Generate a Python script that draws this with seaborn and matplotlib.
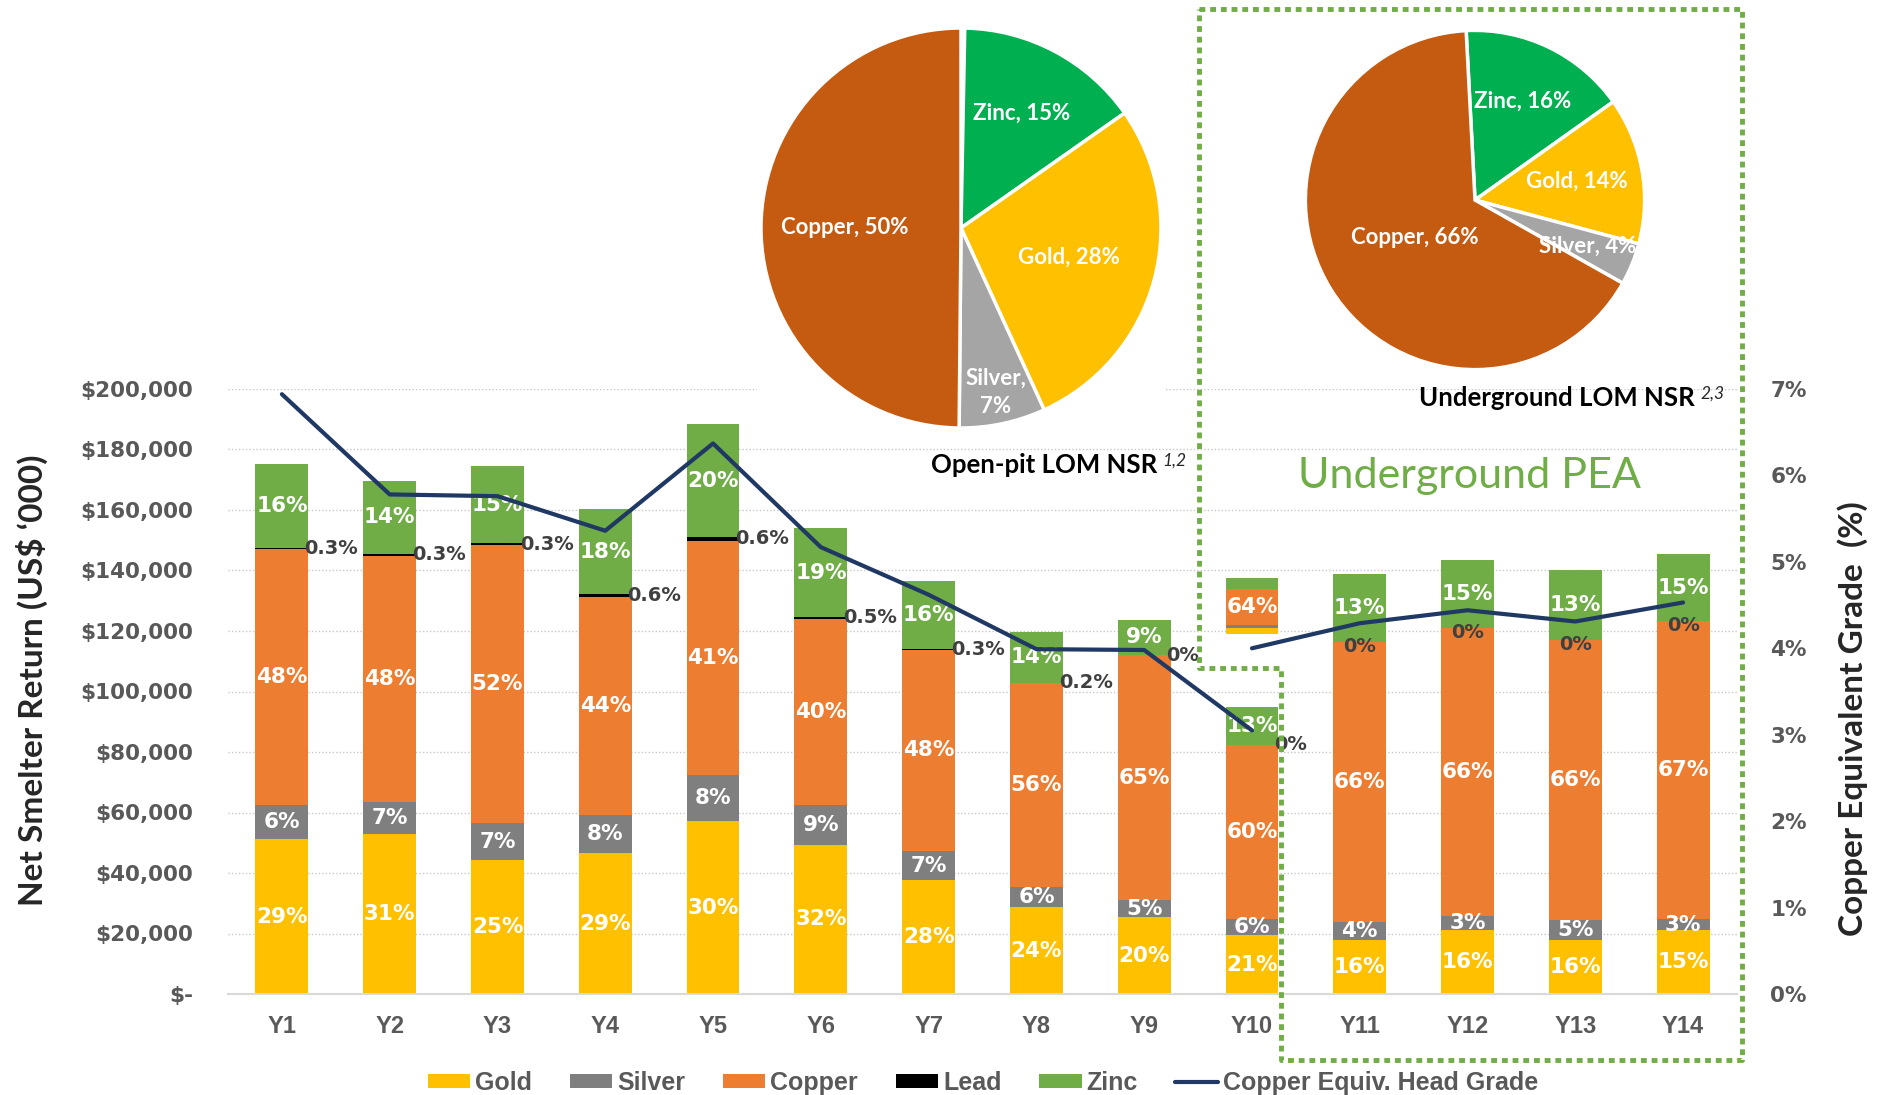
import numpy as np
import pandas as pd
import matplotlib
matplotlib.use("Agg")
import matplotlib.pyplot as plt
import matplotlib.ticker as mticker
from matplotlib.patches import Patch
from matplotlib.lines import Line2D
import seaborn as sns

# ---- data (US$ '000 per metal) ----
years = ["Y1", "Y2", "Y3", "Y4", "Y5", "Y6", "Y7", "Y8", "Y9", "Y10", "Y11", "Y12", "Y13", "Y14"]
metals = ["Gold", "Silver", "Copper", "Lead", "Zinc"]

gold = [51200, 52800, 44200, 46600, 57100, 49300, 37600, 28700, 25300, 19400, 18000, 21300, 18000, 21100]
silver = [11200, 10800, 12200, 12600, 15300, 13200, 9700, 6700, 5700, 5300, 5800, 4500, 6300, 3700]
copper = [84600, 81300, 92100, 72000, 77500, 61400, 66500, 67300, 81000, 57700, 92500, 95200, 92700, 98400]
lead = [500, 500, 500, 1000, 1100, 800, 400, 240, 0, 0, 0, 0, 0, 0]
zinc = [27600, 24300, 25400, 28100, 37400, 29200, 22200, 16700, 11800, 12400, 22600, 22600, 23200, 22200]

gold_lbl = ["29%", "31%", "25%", "29%", "30%", "32%", "28%", "24%", "20%", "21%", "16%", "16%", "16%", "15%"]
silver_lbl = ["6%", "7%", "7%", "8%", "8%", "9%", "7%", "6%", "5%", "6%", "4%", "3%", "5%", "3%"]
copper_lbl = ["48%", "48%", "52%", "44%", "41%", "40%", "48%", "56%", "65%", "60%", "66%", "66%", "66%", "67%"]
lead_lbl = ["0.3%", "0.3%", "0.3%", "0.6%", "0.6%", "0.5%", "0.3%", "0.2%", "0%", "0%", "0%", "0%", "0%", "0%"]
zinc_lbl = ["16%", "14%", "15%", "18%", "20%", "19%", "16%", "14%", "9%", "13%", "13%", "15%", "13%", "15%"]
n_openpit = 10

# underground contribution in Y10, shown as a floating bar
ug_y10_base = 119000
ug_y10 = [2000, 950, 12000, 0, 3600]
ug_y10_lbl = ["", "", "64%", "", ""]

# copper equivalent head grade (%)
grade_openpit = [6.94, 5.78, 5.76, 5.36, 6.37, 5.17, 4.62, 3.99, 3.98, 3.05]
grade_ug_years = ["Y10", "Y11", "Y12", "Y13", "Y14"]
grade_ug = [4.00, 4.29, 4.44, 4.31, 4.53]

# LOM NSR pies
pie_op_names = ["Lead", "Zinc", "Gold", "Silver", "Copper"]
pie_op_vals = [0.3, 15, 28, 7, 50]
pie_op_lbl = ["", "Zinc, 15%", "Gold, 28%", "Silver,\n7%", "Copper, 50%"]
pie_ug_names = ["Zinc", "Gold", "Silver", "Copper"]
pie_ug_vals = [16, 14, 4, 66]
pie_ug_lbl = ["Zinc, 16%", "Gold, 14%", "Silver, 4%", "Copper, 66%"]

# ---- styling ----
bar_colors = {"Gold": "#FFC000", "Silver": "#7F7F7F", "Copper": "#ED7D31", "Lead": "#000000", "Zinc": "#70AD47"}
pie_colors = {"Gold": "#FFC000", "Silver": "#A5A5A5", "Copper": "#C55A11", "Lead": "#D9A400", "Zinc": "#00B050"}
navy = "#1F3864"
tick_grey = "#595959"
green = "#70AD47"

sns.set_style("white")
plt.rcParams["font.family"] = ["DejaVu Sans"]

W, H = 1877, 1095
fig = plt.figure(figsize=(W / 100, H / 100), dpi=100)
ax = fig.add_axes([228 / W, 1 - 994 / H, 1509 / W, 605 / H])

df = pd.DataFrame({"year": years, "Gold": gold, "Silver": silver, "Copper": copper, "Lead": lead, "Zinc": zinc})
labels = {"Gold": gold_lbl, "Silver": silver_lbl, "Copper": copper_lbl, "Zinc": zinc_lbl}

bar_w = 0.49
bottom = np.zeros(len(years))
tops = {}
for m in metals:
    sns.barplot(data=df, x="year", y=m, order=years, color=bar_colors[m], saturation=1,
                width=bar_w, errorbar=None, bottom=bottom, linewidth=0, ax=ax)
    bottom = bottom + df[m].values
    tops[m] = bottom.copy()
    if m in labels:
        ax.bar_label(ax.containers[-1], labels=labels[m], label_type="center",
                     color="white", fontsize=15.5, fontweight="bold")

# lead labels
for i, lbl in enumerate(lead_lbl):
    y = tops["Copper"][i] + lead[i] / 2
    if i < n_openpit:
        ax.annotate(lbl, xy=(i + bar_w / 2, y), xytext=(-3, 0), textcoords="offset points",
                    ha="left", va="center", fontsize=14, fontweight="bold", color="#404040")
    else:
        ax.annotate(lbl, xy=(i, y), xytext=(0, -3), textcoords="offset points",
                    ha="center", va="center", fontsize=14, fontweight="bold", color="#404040")

# floating underground bar in Y10
df_ug = pd.DataFrame({"year": ["Y10"], **{m: [v] for m, v in zip(metals, ug_y10)}})
ug_bottom = ug_y10_base
for m, v, lbl in zip(metals, ug_y10, ug_y10_lbl):
    sns.barplot(data=df_ug, x="year", y=m, order=years, color=bar_colors[m], saturation=1,
                width=bar_w, errorbar=None, bottom=[ug_bottom], linewidth=0, ax=ax)
    if lbl:
        ax.bar_label(ax.containers[-1], labels=[lbl], label_type="center",
                     color="white", fontsize=15.5, fontweight="bold")
    ug_bottom += v

ax.set_xlim(-0.5, len(years) - 0.5)
ax.set_ylim(0, 200000)
ax.set_yticks(np.arange(0, 200001, 20000))
ax.yaxis.set_major_formatter(mticker.FuncFormatter(lambda v, _: "$-" if v == 0 else f"${v:,.0f}"))
ax.set_xlabel("")
ax.set_ylabel("")
ax.yaxis.grid(True, linestyle=(0, (1, 1.5)), color="#C8C8C8", linewidth=1)
ax.set_axisbelow(True)
for s in ["left", "right", "top"]:
    ax.spines[s].set_visible(False)
ax.spines["bottom"].set_color("#D9D9D9")
ax.spines["bottom"].set_linewidth(1.5)
ax.tick_params(axis="y", length=0, pad=25, labelsize=15.5, labelcolor=tick_grey)
ax.tick_params(axis="x", length=0, pad=15, labelcolor=tick_grey)
for t in ax.get_yticklabels():
    t.set_fontweight("bold")
for t in ax.get_xticklabels():
    t.set_fontfamily(["Liberation Sans", "DejaVu Sans"])
    t.set_fontweight("bold")
    t.set_fontsize(17)

# grade line on the secondary axis
ax2 = ax.twinx()
sns.lineplot(x=np.arange(n_openpit), y=np.array(grade_openpit) / 100, color=navy, linewidth=3, ax=ax2)
sns.lineplot(x=[years.index(y) for y in grade_ug_years], y=np.array(grade_ug) / 100,
             color=navy, linewidth=3, ax=ax2)
ax2.set_ylim(0, 0.07)
ax2.set_yticks(np.arange(0, 0.0701, 0.01))
ax2.yaxis.set_major_formatter(mticker.PercentFormatter(1, decimals=0))
ax2.set_xlim(-0.5, len(years) - 0.5)
ax2.set_ylabel("")
ax2.set_xlabel("")
for s in ax2.spines.values():
    s.set_visible(False)
ax2.tick_params(axis="y", length=0, pad=24, labelsize=15.5, labelcolor=tick_grey)
for t in ax2.get_yticklabels():
    t.set_fontweight("bold")

fig.text(32 / W, 1 - 680 / H, "Net Smelter Return (US$ \u2018000)", rotation=90, ha="center", va="center",
         fontfamily=["Lato", "DejaVu Sans"], fontweight="bold", fontsize=24)
fig.text(1853 / W, 1 - 719 / H, "Copper Equivalent Grade  (%)", rotation=90, ha="center", va="center",
         fontfamily=["Lato", "DejaVu Sans"], fontweight="bold", fontsize=24)


def draw_pie(rect, vals, names, lbls, start, radii):
    pax = fig.add_axes(rect)
    wedges, _ = pax.pie(vals, colors=[pie_colors[n] for n in names], startangle=start,
                        counterclock=False, wedgeprops=dict(edgecolor="white", linewidth=2.5))
    for w, lbl, r in zip(wedges, lbls, radii):
        if not lbl:
            continue
        th = np.deg2rad((w.theta1 + w.theta2) / 2)
        pax.text(r * np.cos(th), r * np.sin(th), lbl, ha="center", va="center", color="white",
                 fontfamily=["Lato", "DejaVu Sans"], fontweight="bold", fontsize=16, linespacing=1.4)
    pax.set_xlim(-1.02, 1.02)
    pax.set_ylim(-1.02, 1.02)
    pax.set_frame_on(True)
    for s in pax.spines.values():
        s.set_visible(False)
    pax.patch.set_facecolor("white")
    return pax


draw_pie([757 / W, 1 - 432 / H, 408 / W, 408 / H], pie_op_vals, pie_op_names, pie_op_lbl, 90,
         [0, 0.65, 0.56, 0.84, 0.58])
draw_pie([1302 / W, 1 - 373 / H, 346 / W, 346 / H], pie_ug_vals, pie_ug_names, pie_ug_lbl, 93,
         [0.65, 0.61, 0.72, 0.42])

# pie titles with footnote markers
for txt, sup, xr, yc in [("Open-pit LOM NSR", "1,2", 1157, 465), ("Underground LOM NSR", "2,3", 1695, 398)]:
    t = fig.text(xr / W, 1 - yc / H, txt, ha="right", va="center", color="black",
                 fontfamily=["Lato", "DejaVu Sans"], fontweight="bold", fontsize=18.5)
    ax.annotate(sup, xy=(1, 1), xycoords=t, xytext=(4, 0), textcoords="offset points",
                ha="left", va="top", fontsize=12.5, fontstyle="italic",
                fontfamily=["Lato", "DejaVu Sans"], annotation_clip=False)

fig.text(1470 / W, 1 - 476 / H, "Underground PEA", ha="center", va="center", color=green,
         fontfamily=["Lato", "DejaVu Sans"], fontsize=31)

# dotted outline around the underground PEA
box_x = [1199, 1742, 1742, 1281, 1281, 1199, 1199]
box_y = [9, 9, 1060, 1060, 668, 668, 9]
fig.add_artist(Line2D([x / W for x in box_x], [1 - y / H for y in box_y], transform=fig.transFigure,
                      color=green, linewidth=3.5, linestyle=(0, (1.2, 1.0)), dash_capstyle="butt",
                      zorder=10))

# legend
handles = [Patch(facecolor=bar_colors[m], edgecolor="none") for m in metals]
handles.append(Line2D([], [], color=navy, linewidth=3))
fig.legend(handles, metals + ["Copper Equiv. Head Grade"], loc="center", bbox_to_anchor=(983 / W, 1 - 1083 / H),
           ncol=6, frameon=False, prop=dict(family=["Liberation Sans", "DejaVu Sans"], weight="bold", size=18),
           labelcolor=tick_grey, handlelength=1.7, handleheight=0.5, handletextpad=0.2, columnspacing=1.5)

fig.savefig("out.png", dpi=100)
plt.close(fig)
